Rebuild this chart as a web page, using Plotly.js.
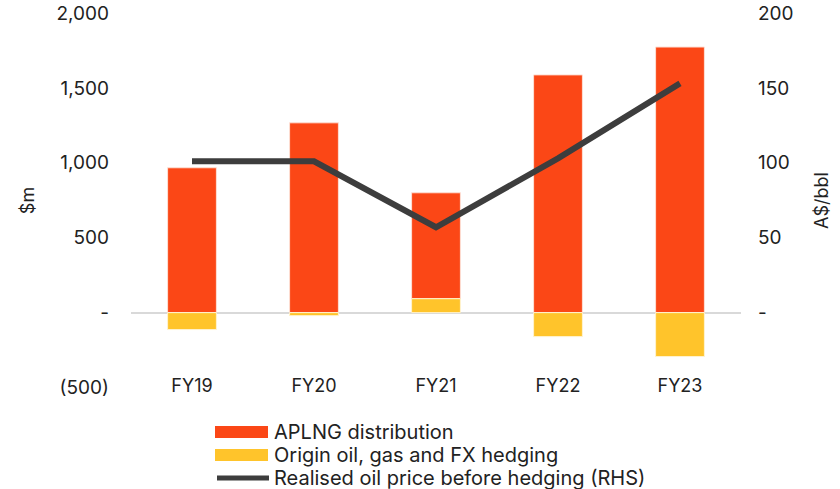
<!DOCTYPE html>
<html>
<head>
<meta charset="utf-8">
<script src="https://cdn.plot.ly/plotly-3.0.1.min.js"></script>
<style>html,body{margin:0;padding:0;background:#fff;}#chart{width:840px;height:489px;}</style>
</head>
<body>
<div id="chart"></div>
<script>
const categories = ["FY19", "FY20", "FY21", "FY22", "FY23"];
const seriesNames = ["APLNG distribution", "Origin oil, gas and FX hedging", "Realised oil price before hedging (RHS)"];
const aplngDistribution = [967, 1267, 707, 1587, 1773];
const hedging = [-113, -20, 93, -160, -293];
const oilPrice = [101, 101, 57, 103, 153];
const leftTickVals = [-500, 0, 500, 1000, 1500, 2000];
const leftTickText = ["(500)", "-", "500", "1,000", "1,500", "2,000"];
const rightTickVals = [0, 50, 100, 150, 200];
const rightTickText = ["-", "50", "100", "150", "200"];

const FONT = "Inter, 'Open Sans', sans-serif";
const TXT = "#222222";
const COLORS = ["#FB4716", "#FFC42B", "#3D3D3D"];

const traces = [
  {
    type: "bar", name: seriesNames[0], x: categories, y: aplngDistribution,
    base: hedging.map(h => h > 0 ? h : 0),
    marker: {color: COLORS[0], line: {color: "#fde0d6", width: 1}}, width: 0.4,
    hoverinfo: "skip"
  },
  {
    type: "bar", name: seriesNames[1], x: categories, y: hedging,
    marker: {color: COLORS[1], line: {color: "#fff3d0", width: 1}}, width: 0.4,
    hoverinfo: "skip"
  },
  {
    type: "scatter", mode: "lines", name: seriesNames[2], x: categories, y: oilPrice,
    yaxis: "y2", line: {color: COLORS[2], width: 6}, hoverinfo: "skip"
  }
];

// custom legend (wide swatches as in the original)
const L = 131, R = 741, T = 13, B = 388;
const px = v => (v - L) / (R - L);
const py = v => (B - v) / (B - T);
const rowY = [432, 455, 478];
const shapes = [
  {type: "rect", xref: "paper", yref: "paper", x0: px(215), x1: px(268), y0: py(rowY[0] - 6), y1: py(rowY[0] + 6), fillcolor: COLORS[0], line: {width: 0}},
  {type: "rect", xref: "paper", yref: "paper", x0: px(215), x1: px(268), y0: py(rowY[1] - 6), y1: py(rowY[1] + 6), fillcolor: COLORS[1], line: {width: 0}},
  {type: "line", xref: "paper", yref: "paper", x0: px(217), x1: px(269), y0: py(rowY[2]), y1: py(rowY[2]), line: {color: COLORS[2], width: 5}}
];
const annotations = seriesNames.map((n, i) => ({
  xref: "paper", yref: "paper", x: px(272), y: py(rowY[i]), xanchor: "left", yanchor: "middle",
  text: n, showarrow: false, font: {size: 20, family: FONT, color: TXT}
}));

const layout = {
  width: 840, height: 489,
  margin: {l: L, r: 840 - R, t: T, b: 489 - B, autoexpand: false},
  paper_bgcolor: "#ffffff", plot_bgcolor: "#ffffff",
  font: {family: FONT, color: TXT, size: 18},
  barmode: "overlay",
  showlegend: false,
  shapes: shapes,
  annotations: annotations,
  xaxis: {
    type: "category", showgrid: false, zeroline: false, showline: false,
    ticks: "", tickfont: {size: 18}, ticklabelstandoff: -15
  },
  yaxis: {
    range: [-503, 2000], tickvals: leftTickVals, ticktext: leftTickText,
    showgrid: false, zeroline: true, zerolinecolor: "#d9d9d9", zerolinewidth: 2,
    showline: false, ticks: "", tickfont: {size: 19}, ticklabelstandoff: 21,
    title: {text: "$m", font: {size: 18}, standoff: 17}
  },
  yaxis2: {
    range: [-50.3, 200], overlaying: "y", side: "right",
    tickvals: rightTickVals, ticktext: rightTickText,
    showgrid: false, zeroline: false, showline: false, ticks: "",
    tickfont: {size: 19}, ticklabelstandoff: 16,
    title: {text: "A$/bbl", font: {size: 18}, standoff: 22}
  }
};

Plotly.newPlot("chart", traces, layout, {displayModeBar: false, staticPlot: true});
</script>
</body>
</html>
